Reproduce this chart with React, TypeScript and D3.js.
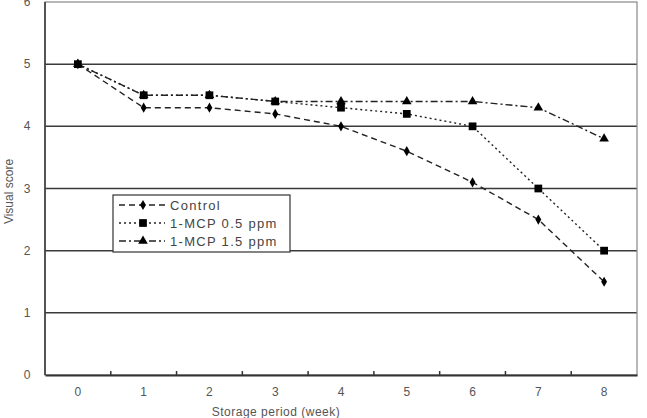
import React, { useEffect, useRef } from 'react';
import * as d3 from 'd3';

const weeks = ['0', '1', '2', '3', '4', '5', '6', '7', '8'];
const control = [5, 4.3, 4.3, 4.2, 4.0, 3.6, 3.1, 2.5, 1.5];
const mcp05 = [5, 4.5, 4.5, 4.4, 4.3, 4.2, 4.0, 3.0, 2.0];
const mcp15 = [5, 4.5, 4.5, 4.4, 4.4, 4.4, 4.4, 4.3, 3.8];
const yTicks = [0, 1, 2, 3, 4, 5, 6];

interface Series {
  name: string;
  values: number[];
  dash: string;
  symbol: d3.SymbolType;
  size: number;
}

const series: Series[] = [
  { name: 'Control', values: control, dash: '6,4', symbol: d3.symbolDiamond, size: 30 },
  { name: '1-MCP 0.5 ppm', values: mcp05, dash: '2,3', symbol: d3.symbolSquare, size: 60 },
  { name: '1-MCP 1.5 ppm', values: mcp15, dash: '7,3,2,3', symbol: d3.symbolTriangle, size: 40 },
];

const App: React.FC = () => {
  const svgRef = useRef<SVGSVGElement>(null);

  useEffect(() => {
    if (!svgRef.current) return;
    const svg = d3.select(svgRef.current);
    svg.selectAll('*').remove();

    const left = 45, right = 637, top = 2, bottom = 375;
    const font = '"Liberation Sans", Arial, sans-serif';
    const textColor = '#555';

    const x = d3.scaleBand<string>().domain(weeks).range([left, right]);
    const y = d3.scaleLinear().domain([0, 6]).range([bottom, top]);

    // gridlines
    svg
      .append('g')
      .selectAll('line')
      .data(yTicks.filter((t) => t > 0 && t < 6))
      .enter()
      .append('line')
      .attr('x1', left)
      .attr('x2', right)
      .attr('y1', (d) => y(d))
      .attr('y2', (d) => y(d))
      .attr('stroke', '#3a3a3a')
      .attr('stroke-width', 1.5);

    // frame
    svg
      .append('rect')
      .attr('x', left)
      .attr('y', top)
      .attr('width', right - left)
      .attr('height', bottom - top)
      .attr('fill', 'none')
      .attr('stroke', '#888')
      .attr('stroke-width', 1.2);

    svg
      .append('line')
      .attr('x1', left)
      .attr('x2', left)
      .attr('y1', top)
      .attr('y2', bottom)
      .attr('stroke', '#333')
      .attr('stroke-width', 1.5);

    // x axis
    const xAxis = svg
      .append('g')
      .attr('transform', `translate(0, ${bottom})`)
      .call(d3.axisBottom(x).tickSize(0).tickPadding(12));
    xAxis.select('.domain').attr('stroke', '#333').attr('stroke-width', 2);
    xAxis
      .selectAll('text')
      .attr('font-family', font)
      .attr('font-size', 12)
      .attr('fill', textColor);
    svg
      .append('g')
      .selectAll('line')
      .data(weeks.slice(1))
      .enter()
      .append('line')
      .attr('x1', (d) => x(d)!)
      .attr('x2', (d) => x(d)!)
      .attr('y1', bottom - 4)
      .attr('y2', bottom)
      .attr('stroke', '#333')
      .attr('stroke-width', 1.5);

    // y labels
    svg
      .append('g')
      .selectAll('text')
      .data(yTicks)
      .enter()
      .append('text')
      .attr('x', 27)
      .attr('y', (d) => y(d) + 4)
      .attr('text-anchor', 'middle')
      .attr('font-family', font)
      .attr('font-size', 12)
      .attr('fill', textColor)
      .text((d) => d);

    svg
      .append('text')
      .attr('transform', `translate(13, ${(top + bottom) / 2 + 3}) rotate(-90)`)
      .attr('text-anchor', 'middle')
      .attr('font-family', font)
      .attr('font-size', 12)
      .attr('fill', textColor)
      .text('Visual score');

    svg
      .append('text')
      .attr('x', 276)
      .attr('y', 416)
      .attr('text-anchor', 'middle')
      .attr('font-family', font)
      .attr('font-size', 12)
      .attr('letter-spacing', 0.5)
      .attr('fill', textColor)
      .text('Storage period (week)');

    const cx = (i: number) => x(weeks[i])! + x.bandwidth() / 2;
    const line = d3
      .line<number>()
      .x((_d, i) => cx(i))
      .y((d) => y(d));

    series.forEach((s) => {
      svg
        .append('path')
        .datum(s.values)
        .attr('d', line)
        .attr('fill', 'none')
        .attr('stroke', '#222')
        .attr('stroke-width', 1.4)
        .attr('stroke-dasharray', s.dash);
    });
    series.forEach((s) => {
      svg
        .append('g')
        .selectAll('path')
        .data(s.values)
        .enter()
        .append('path')
        .attr('transform', (d, i) => `translate(${cx(i)}, ${y(d)})`)
        .attr('d', d3.symbol().type(s.symbol).size(s.size)())
        .attr('fill', '#000');
    });

    // legend
    const lg = svg.append('g').attr('transform', 'translate(113, 195)');
    lg.append('rect')
      .attr('width', 177)
      .attr('height', 57)
      .attr('fill', '#fff')
      .attr('stroke', '#333')
      .attr('stroke-width', 1.2);
    series.forEach((s, i) => {
      const ry = 10 + i * 18;
      lg.append('line')
        .attr('x1', 6)
        .attr('x2', 52)
        .attr('y1', ry)
        .attr('y2', ry)
        .attr('stroke', '#222')
        .attr('stroke-width', 1.4)
        .attr('stroke-dasharray', s.dash);
      lg.append('path')
        .attr('transform', `translate(30, ${ry})`)
        .attr('d', d3.symbol().type(s.symbol).size(s.size)())
        .attr('fill', '#000');
      lg.append('text')
        .attr('x', 57)
        .attr('y', ry + 5)
        .attr('font-family', font)
        .attr('font-size', 13)
        .attr('letter-spacing', 1.3)
        .attr('fill', '#444')
        .text(s.name);
    });
  }, []);

  return (
    <div style={{ position: 'absolute', left: 0, top: 0 }}>
      <svg ref={svgRef} width={647} height={418}></svg>
    </div>
  );
};

export default App;
